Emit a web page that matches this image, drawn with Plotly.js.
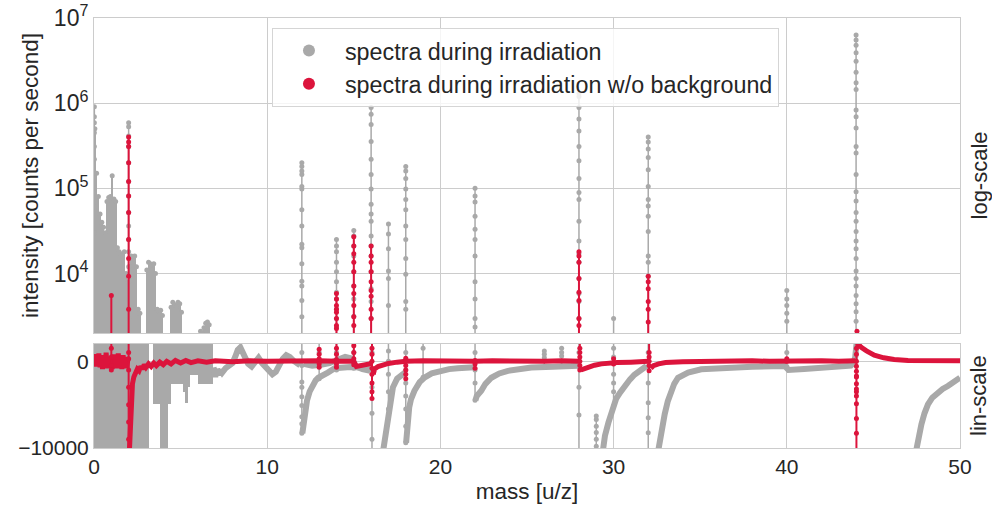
<!DOCTYPE html>
<html><head><meta charset="utf-8">
<script src="https://cdn.plot.ly/plotly-3.0.1.min.js"></script>
<style>html,body{margin:0;padding:0;background:#fff;}#chart{width:992px;height:505px;}</style>
</head><body><div id="chart"></div>
<script>
// ---------------- data ----------------
const xTickVals = [0, 10, 20, 30, 40, 50];
const logTickVals = [1e4, 1e5, 1e6, 1e7];
const logTickText = ['10<sup>4</sup>', '10<sup>5</sup>', '10<sup>6</sup>', '10<sup>7</sup>'];
const linTickVals = [-10000, 0];
const linTickText = ['\u221210000', '0'];

// log panel, gray peaks (mass, dot intensities bottom -> top)
const grayPeakMass = [0.02, 2.0, 12.0, 14.0, 15.0, 16.0, 17.0, 18.0, 22.0, 28.0, 30.0, 32.0, 40.0, 44.0];
const grayPeakVals = [
  [1000, 3e4, 6e4, 1e5, 1.5e5, 2.2e5, 3.1e5, 4.5e5, 5.9e5, 6.9e5, 9.1e5],
  [1000, 2950, 5000, 8000, 1.2e4, 1.8e4, 2.5e4, 3.6e4, 5.2e4, 8.1e4, 1.2e5, 2e5, 3.1e5, 4.1e5, 5.3e5, 5.9e5],
  [1000, 3100, 4800, 7100, 8100, 1.3e4, 2e4, 2.2e4, 3.6e4, 5.6e4, 9.8e4, 1.05e5, 1.45e5, 1.6e5, 1.8e5, 2e5],
  [1000, 2350, 2950, 3800, 5000, 6000, 8000, 1.05e4, 1.35e4, 1.8e4, 2.1e4, 2.5e4],
  [1000, 3150, 5000, 7100, 1.05e4, 1.6e4, 2.1e4, 2.75e4, 3.2e4],
  [1000, 2950, 4700, 6600, 1.05e4, 1.6e4, 2.1e4, 2.75e4, 4.1e4, 5e4, 6.5e4, 9.8e4, 1.45e5, 2.2e5, 3.55e5, 5.6e5, 7.4e5, 8.9e5],
  [1000, 4200, 8700, 1.07e4, 1.95e4, 2.9e4, 3.8e4],
  [1000, 3800, 4700, 9800, 1.5e4, 2.5e4, 3.6e4, 5.6e4, 7.4e4, 9.8e4, 1.3e5, 1.6e5, 1.8e5],
  [1000, 2350, 2950, 5000, 8000, 1.6e4, 2.5e4, 3.3e4, 4.7e4, 6.9e4, 8.1e4, 1e5],
  [1000, 2950, 4700, 5800, 8700, 1.35e4, 1.7e4, 2.4e4, 4.1e4, 7.4e4, 8.9e4, 1.3e5, 2.1e5, 3.1e5, 4.7e5, 6.5e5, 8.9e5, 1.2e6, 1.3e6],
  [1000, 2950],
  [1000, 9300, 1.35e4, 1.6e4, 3.1e4, 4.7e4, 6.2e4, 7.4e4, 1.05e5, 1.65e5, 2.3e5, 2.9e5, 3.5e5, 4e5],
  [1000, 2750, 3400, 4200, 5000, 6300],
  [1000, 2750, 3550, 4400, 5500, 7100, 8700, 1.07e4, 1.5e4, 1.95e4, 2.4e4, 3.1e4, 4.1e4, 5.2e4, 7.1e4, 9.1e4, 1.45e5, 2.6e5, 3.1e5, 5.1e5, 6.9e5, 8.3e5, 1.45e6, 1.74e6, 2.3e6, 3.1e6, 3.9e6, 4.8e6, 5.5e6, 6.3e6]
];
// log panel, red peaks
const redPeakMass = [1.0, 2.0, 14.0, 15.0, 16.0, 28.0, 32.0, 44.05];
const redPeakVals = [
  [1000, 5500],
  [1000, 3800, 9300, 1.5e4, 2.5e4, 5.2e4, 8.1e4, 1.2e5, 2e5, 3.1e5, 3.5e5, 4e5],
  [1000, 2250, 2450, 2950, 3500, 3800, 4200, 5000, 5800],
  [1000, 2450, 3100, 4200, 5800, 7100, 1.05e4, 1.35e4, 1.7e4, 2.1e4, 2.7e4],
  [1000, 2950, 3800, 5400, 6300, 8000, 1.05e4, 1.35e4, 1.6e4, 2.1e4],
  [1000, 2450, 2950, 4800, 6000, 8700, 1.35e4, 1.6e4, 1.8e4],
  [1000, 2700, 3800, 4700, 6600, 8000, 9300],
  [1000, 2100]
];
// log panel, dense gray region (bin centre mass, upper envelope)
const logBlockMass = [0.05, 0.15, 0.25, 0.35, 0.45, 0.55, 0.65, 0.75, 0.85, 0.95, 1.05, 1.15, 1.25, 1.35, 1.45, 1.55, 1.65, 1.75, 1.85, 1.95, 2.05, 2.15, 2.25, 2.35, 2.45, 2.55, 2.65, 3.05, 3.15, 3.25, 3.35, 3.45, 3.55, 3.65, 3.75, 3.85, 3.95, 4.45, 4.55, 4.65, 4.75, 4.85, 4.95, 5.05, 6.15, 6.25, 6.35, 6.45, 6.55, 6.65];
const logBlockTop = [5e5, 1.5e5, 8e4, 5e4, 4e4, 3.5e4, 3e4, 7e4, 7.8e4, 8e4, 1.4e5, 7.5e4, 7e4, 2e4, 1.8e4, 1.7e4, 1.6e4, 1.8e4, 1e4, 8000, 1.2e4, 1.6e4, 1.5e4, 1.6e4, 1.2e4, 3800, 3400, 1.1e4, 1.35e4, 1.3e4, 1.25e4, 1.3e4, 1e4, 3800, 3600, 3700, 3200, 4000, 4600, 4300, 4100, 4600, 4400, 3500, 2100, 2000, 2300, 2600, 2700, 2500];

// lin panel, dense gray region (mass from, mass to, low, high)
const linBlockStart = [0.0, 3.4, 3.8, 4.27, 4.46, 5.14, 5.25, 5.45, 5.53, 6.0];
const linBlockEnd = [3.2, 3.8, 4.27, 4.46, 5.14, 5.25, 5.45, 5.53, 6.0, 6.87];
const linBlockLow = [-12000, -4900, -12000, -4900, -2600, -3500, -4800, -3000, -1550, -2600];
const linBlockHigh = [2500, 2500, 2500, 2500, 2500, 2500, 2500, 2500, 2500, 2500];

// lin panel, gray baseline / recovery curves (null = break)
const linGrayMass = [6.9, 7.0, 7.1, 7.2, 7.3, 7.4, 7.6, 7.8, 8.0, 8.15, 8.3, 8.45, 8.6, 8.75, 8.9, 9.1, 9.3, 9.5, 9.7, 9.9, 10.1, 10.3, 10.5, 10.7, 10.9, 11.1, 11.3, 11.5, 11.7, 11.9, null,
  12.03, 12.07, 12.12, 12.2, 12.3, 12.45, 12.6, 12.8, 12.95, 13.2, 13.5, 13.9, 14.3, 14.8, 15.3, 15.7, 15.95, null,
  16.68, 16.8, 16.97, 17.1, 17.26, 17.5, 17.74, 17.95, null,
  18.02, 18.06, 18.12, 18.2, 18.3, 18.5, 18.8, 19.1, 19.5, 20.0, 20.5, 21.0, 21.5, 21.95, null,
  22.02, 22.1, 22.36, 22.6, 22.94, 23.4, 23.9, 24.5, 25.25, 26.5, 27.75, 27.95, null,
  29.39, 29.5, 29.7, 29.85, 29.98, 30.15, 30.37, 30.65, 30.95, 31.2, 31.5, 31.75, 31.9, null,
  32.56, 32.7, 32.82, 32.95, 33.13, 33.33, 33.5, 33.72, 34.0, 34.3, 35.06, 36.6, 38.0, 39.88, 40.1, 41.0, 42.0, 43.0, 43.7, 43.85, 43.95, 44.0, 44.05, null,
  47.48, 47.6, 47.77, 47.95, 48.15, 48.4, 48.73, 49.0, 49.3, 49.65, 50.0, null,
  12.1, 12.6, 13.1, 13.6, 14.1, 14.5, 14.9, 15.1, 15.5, 15.95];
const linGrayVal = [-700, -1800, -900, -1600, -1000, -1300, -800, -500, -200, 500, 1300, 1600, 900, 200, -300, -600, -100, 400, -200, -700, -1100, -1500, -1200, -300, 300, 700, 500, 100, -200, -450, null,
  -8300, -7500, -6500, -5300, -4500, -3500, -2800, -2200, -1900, -1550, -1300, -800, -700, -650, -700, -800, -900, null,
  -10500, -8800, -6450, -4800, -3000, -2000, -1500, -1300, null,
  -9400, -8000, -6500, -5300, -4400, -3400, -2400, -1850, -1400, -1100, -900, -800, -750, -700, null,
  -4500, -4000, -3400, -2600, -1900, -1400, -1100, -900, -730, -620, -540, -520, null,
  -10200, -8600, -7080, -6000, -5160, -4300, -3620, -2800, -2080, -1550, -1120, -800, -540, null,
  -10500, -8500, -7200, -6100, -4600, -3430, -2600, -1900, -1550, -1300, -920, -730, -620, -540, -1000, -900, -750, -600, -500, -200, 500, 1500, 2500, null,
  -10200, -8700, -7270, -6000, -4970, -4200, -3620, -3200, -2850, -2350, -1890, null,
  -300, -500, -400, -200, 200, 500, 300, -600, -900, -1100];

// lin panel, gray vertical spikes
const linGraySpikeMass = [12.0, 13.0, 14.0, 15.0, 16.05, 17.0, 18.0, 19.0, 22.0, 26.0, 27.0, 28.0, 29.0, 30.0, 32.0, 40.0];
const linGraySpikeVals = [
  [2500, 1000, -500, -2400, -3000, -4100, -5100, -6400, -7200, -8300],
  [2500, 1000, -500, -2000],
  [2500, 1000, -1000],
  [2500, 1000, -800],
  [2500, 1000, -1000, -3000, -6000, -9000, -10500],
  [2500, 1200, 0, -1500, -3500, -5500, -6450],
  [2500, 1000, -1000, -2500, -4000, -5500, -7500, -9400],
  [2500, 1500, -1850],
  [2500, 1000, -1000, -2500, -4500],
  [-620, 400, 800, 1200],
  [-540, 600, 1000, 1500],
  [2500, 1000, -600, -3000, -6200, -10500],
  [-10500, -9800, -9000, -8200, -7500, -6700, -6300],
  [2500, 1500, 500, -1500, -2500, -3500, -5160],
  [2500, 1000, -600, -2500, -4770, -6500, -8230, -10500],
  [2500, 1000, -600]
];

// lin panel, red baseline (null = break)
const linRedMass = [0.0, 0.07, 0.14, 0.21, 0.28, 0.35, 0.42, 0.49, 0.56, 0.63, 0.7, 0.77, 0.84, 0.91, 0.97, 1.05, 1.12, 1.19, 1.26, 1.33, 1.4, 1.47, 1.54, 1.61, 1.68, 1.75, 1.82, 1.89, 1.96, null,
  2.04, 2.08, 2.12, 2.16, 2.22, 2.3, 2.4, 2.5, 2.6, 2.7, 2.8, 2.9, 3.0, 3.15, 3.3, 3.45, 3.6, 3.8, 4.0, 4.2, 4.45, 4.7, 5.0, 5.3, 5.6, 6.0, 6.5, 7.0, 8.0, 9.0, 10.0, 11.0, 12.0, 13.0, 14.0, 15.0, 15.15, 15.5, 15.9, 16.0, null,
  16.12, 16.2, 16.4, 16.7, 17.0, 17.5, 18.0, 19.0, 20.0, 21.0, 22.0, 23.0, 24.0, 25.0, 26.0, 27.0, 28.0, null,
  28.12, 28.3, 28.6, 28.9, 29.3, 29.7, 30.2, 31.0, 32.0, null,
  32.15, 32.3, 32.6, 33.0, 34.0, 35.0, 36.0, 37.0, 38.0, 39.0, 40.0, 41.0, 42.0, 43.0, 43.95, null,
  44.07, 44.15, 44.3, 44.6, 45.05, 45.6, 46.2, 47.0, 48.0, 49.0, 50.0];
const linRedVal = [500, -600, 800, -400, 900, -700, 600, -900, 700, -500, 1000, -800, 500, -600, 300, -900, 800, -600, 700, -800, 900, -500, 600, -900, 700, -600, 500, -800, 300, null,
  -10500, -8000, -5500, -3800, -2600, -1800, -1200, -900, -1100, -600, -900, -400, -700, -300, -600, -200, -500, -100, -400, 0, -300, 100, -200, 100, -150, 50, -100, 50, -50, 50, 0, 50, 0, 50, 0, 0, -600, -500, -300, -200, null,
  -1500, -900, -600, -400, -250, -100, 0, 50, 0, 50, 0, 50, 0, 50, 0, 50, 0, null,
  -1000, -850, -650, -450, -300, -200, -150, -100, 0, null,
  -800, -500, -300, -150, -50, 0, 50, 0, 50, 0, 50, 0, 50, 0, 50, null,
  2100, 1900, 1600, 1200, 700, 400, 200, 100, 50, 50, 50];

// lin panel, red vertical spikes
const linRedSpikeMass = [1.0, 2.0, 13.0, 14.0, 15.0, 16.05, 18.0, 22.0, 28.05, 30.0, 32.05, 40.0, 44.02];
const linRedSpikeVals = [
  [2500, 1500, 500, -500, -1000],
  [300, 2500, 1000, -1000, -3000, -5000, -7000, -9000, -10500],
  [-700, -300, 300, 800, 1400],
  [-700, -300, 200, 800, 1500, 2500],
  [-400, 300, 1000, 1800, 2500],
  [-4300, -3500, -2500, -1500, -800, 0, 800, 1500, 2500],
  [-2000, -1500, -1000, -500, 0, 350],
  [-800, -300, 100],
  [-1000, -500, 0, 500, 1000, 1500, 2500],
  [-300, 300],
  [-1100, -500, 0, 500, 1000, 2500],
  [0, 300],
  [2500, 1500, 800, 0, -570, -1140, -1700, -1800, -2600, -3200, -3500, -4000, -4900, -6600, -8300, -10500]
];

// ---------------- build ----------------
const GRAY = '#a9a9a9', RED = '#dc143c';
const FONT = 'Liberation Sans, Arial, Helvetica, sans-serif';
const TXT = '#262626';

function spikes(masses, vals) {
  const x = [], y = [];
  masses.forEach((m, i) => {
    vals[i].forEach(v => { x.push(m); y.push(v); });
    x.push(null); y.push(null);
  });
  return {x, y};
}
const gLog = spikes(grayPeakMass, grayPeakVals);
const rLog = spikes(redPeakMass, redPeakVals);
const gLin = spikes(linGraySpikeMass, linGraySpikeVals);
const rLin = spikes(linRedSpikeMass, linRedSpikeVals);

const traces = [
  {type: 'bar', x: logBlockMass, y: logBlockTop, width: 0.1, xaxis: 'x2', yaxis: 'y2',
   marker: {color: GRAY, line: {width: 0}}, showlegend: false, hoverinfo: 'skip'},
  {type: 'bar', x: linBlockStart.map((s, i) => (s + linBlockEnd[i]) / 2),
   width: linBlockStart.map((s, i) => linBlockEnd[i] - s),
   base: linBlockLow, y: linBlockHigh.map((h, i) => h - linBlockLow[i]),
   xaxis: 'x', yaxis: 'y', marker: {color: GRAY, line: {width: 0}}, showlegend: false, hoverinfo: 'skip'},
  {type: 'scatter', mode: 'markers', x: logBlockMass, y: logBlockTop, xaxis: 'x2', yaxis: 'y2',
   marker: {color: GRAY, size: 5}, showlegend: false, hoverinfo: 'skip'},
  {type: 'scatter', mode: 'lines', x: gLog.x, y: gLog.y, xaxis: 'x2', yaxis: 'y2',
   line: {color: GRAY, width: 1.5}, connectgaps: false, showlegend: false, hoverinfo: 'skip'},
  {type: 'scatter', mode: 'markers', x: gLog.x, y: gLog.y, xaxis: 'x2', yaxis: 'y2',
   marker: {color: GRAY, size: 5}, name: 'spectra during irradiation', showlegend: true},
  {type: 'scatter', mode: 'lines', x: linGrayMass, y: linGrayVal, xaxis: 'x', yaxis: 'y',
   line: {color: GRAY, width: 6}, connectgaps: false, showlegend: false, hoverinfo: 'skip'},
  {type: 'scatter', mode: 'lines+markers', x: gLin.x, y: gLin.y, xaxis: 'x', yaxis: 'y',
   line: {color: GRAY, width: 1.5}, marker: {color: GRAY, size: 5}, connectgaps: false, showlegend: false, hoverinfo: 'skip'},
  {type: 'scatter', mode: 'lines', x: linRedMass, y: linRedVal, xaxis: 'x', yaxis: 'y',
   line: {color: RED, width: 5}, connectgaps: false, showlegend: false, hoverinfo: 'skip'},
  {type: 'scatter', mode: 'lines+markers', x: rLin.x, y: rLin.y, xaxis: 'x', yaxis: 'y',
   line: {color: RED, width: 2}, marker: {color: RED, size: 5}, connectgaps: false, showlegend: false, hoverinfo: 'skip'},
  {type: 'scatter', mode: 'lines', x: rLog.x, y: rLog.y, xaxis: 'x2', yaxis: 'y2',
   line: {color: RED, width: 2}, connectgaps: false, showlegend: false, hoverinfo: 'skip'},
  {type: 'scatter', mode: 'markers', x: rLog.x, y: rLog.y, xaxis: 'x2', yaxis: 'y2',
   marker: {color: RED, size: 5}, name: 'spectra during irradiation w/o background', showlegend: true}
];

const axisCommon = {
  showgrid: true, gridcolor: '#cccccc', gridwidth: 1,
  showline: true, linecolor: '#cccccc', linewidth: 1, mirror: true,
  zeroline: false, ticks: '', tickfont: {family: FONT, size: 21, color: TXT}
};

const layout = {
  width: 992, height: 505,
  margin: {l: 94, r: 32, t: 18, b: 57},
  paper_bgcolor: '#ffffff', plot_bgcolor: '#ffffff',
  font: {family: FONT, color: TXT},
  barmode: 'overlay', bargap: 0,
  showlegend: true,
  legend: {x: 0.2055, y: 0.977, xanchor: 'left', yanchor: 'top',
    bgcolor: 'rgba(255,255,255,0.8)', bordercolor: '#d5d5d5', borderwidth: 1,
    font: {family: FONT, size: 23.3, color: TXT}, itemsizing: 'constant', itemwidth: 62},
  xaxis: Object.assign({}, axisCommon, {domain: [0, 1], range: [0, 50], tickvals: xTickVals,
    anchor: 'y', title: {text: 'mass [u/z]', font: {family: FONT, size: 22.5, color: TXT}, standoff: 6}}),
  xaxis2: Object.assign({}, axisCommon, {domain: [0, 1], range: [0, 50], tickvals: xTickVals,
    anchor: 'y2', matches: 'x', showticklabels: false}),
  yaxis: Object.assign({}, axisCommon, {domain: [0, 0.242], range: [-10000, 2000],
    tickvals: linTickVals, ticktext: linTickText, anchor: 'x'}),
  yaxis2: Object.assign({}, axisCommon, {domain: [0.2675, 1], type: 'log', range: [Math.log10(2000), 7],
    tickvals: logTickVals, ticktext: logTickText, anchor: 'x2',
    tickfont: {family: FONT, size: 23, color: TXT},
    title: {text: 'intensity [counts per second]', font: {family: FONT, size: 22.5, color: TXT}, standoff: 8}}),
  annotations: [
    {text: 'log-scale', xref: 'paper', yref: 'y2 domain', x: 1, y: 0.5, xanchor: 'center', yanchor: 'middle',
     xshift: 19, textangle: -90, showarrow: false, font: {family: FONT, size: 22, color: TXT}},
    {text: 'lin-scale', xref: 'paper', yref: 'y domain', x: 1, y: 0.5, xanchor: 'center', yanchor: 'middle',
     xshift: 19, textangle: -90, showarrow: false, font: {family: FONT, size: 22, color: TXT}}
  ]
};

Plotly.newPlot('chart', traces, layout, {staticPlot: true, displayModeBar: false});
</script>
</body></html>
